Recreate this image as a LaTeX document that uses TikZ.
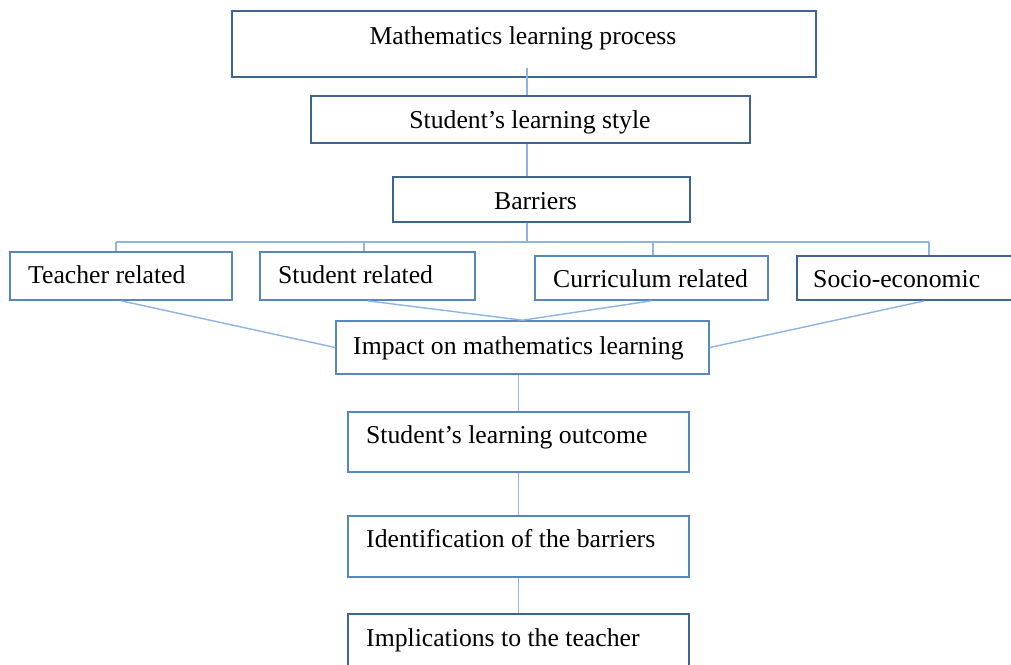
\documentclass[tikz,border=0pt]{standalone}
\usepackage{fontspec}
\setmainfont{Liberation Serif}
\begin{document}
\begin{tikzpicture}[x=1pt,y=-1pt,
  boxdark/.style={draw=boxd,line width=2pt,fill=white,inner sep=0pt},
  boxlight/.style={draw=boxl,line width=1.6pt,fill=white,inner sep=0pt},
  lbl/.style={inner sep=0pt,text=black,font=\fontsize{25.7}{30}\selectfont},
  conn/.style={draw=connc,line width=1.4pt}]
\definecolor{boxd}{HTML}{3E6490}
\definecolor{boxl}{HTML}{5A86BE}
\definecolor{connc}{HTML}{8DB4E2}
\useasboundingbox (0,0) rectangle (1011,664);
\clip (0,0) rectangle (1011,664);
\fill[white] (0,0) rectangle (1011,664);

% boxes
\node[boxdark, minimum width=584pt, minimum height=66pt] (b1) at (524,44) {};
\node[boxdark, minimum width=439pt, minimum height=47pt] (b2) at (530.5,119.5) {};
\node[boxdark, minimum width=297pt, minimum height=45pt] (b3) at (541.5,199.5) {};
\node[boxlight, minimum width=222pt, minimum height=48pt] (t) at (121,276) {};
\node[boxlight, minimum width=215pt, minimum height=48pt] (s) at (367.5,276) {};
\node[boxlight, minimum width=233pt, minimum height=44pt] (cu) at (651.5,278) {};
\node[boxdark, minimum width=254pt, minimum height=44pt] (so) at (924,278) {};
\node[boxlight, minimum width=373pt, minimum height=53pt] (imp) at (522.5,347.5) {};
\node[boxlight, minimum width=341pt, minimum height=60pt] (o) at (518.5,442) {};
\node[boxlight, minimum width=341pt, minimum height=61pt] (id) at (518.5,546.5) {};
\node[boxdark, minimum width=341pt, minimum height=66pt] (im) at (518.5,647) {};

% texts
\node[lbl, anchor=base] (tb1) at (523,44.5) {Mathematics learning process};
\node[lbl, anchor=base] (tb2) at (530,128.5) {Student’s learning style};
\node[lbl, anchor=base] (tb3) at (535.5,209.5) {Barriers};
\node[lbl, anchor=base west] (tt) at (28,283.5) {Teacher related};
\node[lbl, anchor=base west] (ts) at (278,283.5) {Student related};
\node[lbl, anchor=base west] (tcu) at (553,287.5) {Curriculum related};
\node[lbl, anchor=base west] (tso) at (813,287.5) {Socio-economic};
\node[lbl, anchor=base west] (timp) at (353,354.5) {Impact on mathematics learning};
\node[lbl, anchor=base west] (to) at (366,443.5) {Student’s learning outcome};
\node[lbl, anchor=base west] (tid) at (366,547.5) {Identification of the barriers};
\node[lbl, anchor=base west] (tim) at (366,646.5) {Implications to the teacher};

% connectors
\coordinate (c1) at (527,68);
\coordinate (bus) at (527,242);
\coordinate (busl) at (116,242);
\coordinate (busr) at (929,242);
\coordinate (bs) at (364,242);
\coordinate (bc) at (653,242);
\draw[conn] (c1) -- (c1 |- b2.north);
\draw[conn] (b2.south -| c1) -- (b3.north -| c1);
\draw[conn] (b3.south -| c1) -- (bus);
\draw[conn] (busl) -- (busr);
\draw[conn] (busl) -- (busl |- t.north);
\draw[conn] (bs) -- (bs |- s.north);
\draw[conn] (bc) -- (bc |- cu.north);
\draw[conn] (busr) -- (busr |- so.north);
\draw[conn] (t.south) -- (imp.west);
\draw[conn] (s.south) -- (imp.north);
\draw[conn] (cu.south) -- (imp.north);
\draw[conn] (so.south) -- (imp.east);
\draw[conn] (imp.south -| o.north) -- (o.north);
\draw[conn] (o.south) -- (id.north);
\draw[conn] (id.south) -- (im.north);
\end{tikzpicture}
\end{document}
